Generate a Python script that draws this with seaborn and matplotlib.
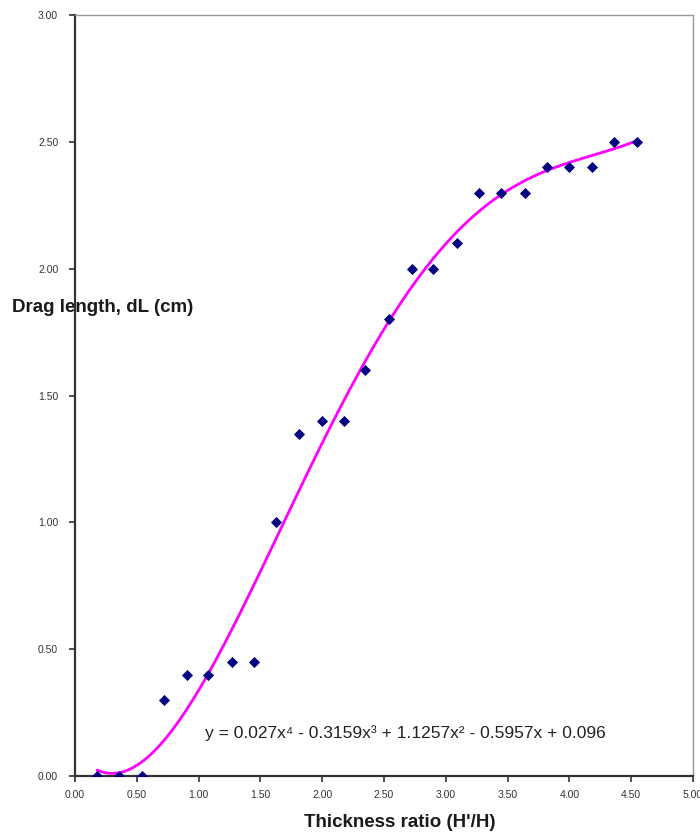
import numpy as np
import pandas as pd
import matplotlib
matplotlib.use('Agg')
import matplotlib.pyplot as plt
import seaborn as sns

# measured points
thickness_ratio = [0.18, 0.36, 0.54, 0.72, 0.91, 1.08, 1.27, 1.45, 1.63, 1.81,
                   2.00, 2.18, 2.35, 2.54, 2.73, 2.90, 3.09, 3.27, 3.45, 3.64,
                   3.82, 4.00, 4.18, 4.36, 4.55]
drag_length = [0.00, 0.00, 0.00, 0.30, 0.40, 0.40, 0.45, 0.45, 1.00, 1.35,
               1.40, 1.40, 1.60, 1.80, 2.00, 2.00, 2.10, 2.30, 2.30, 2.30,
               2.40, 2.40, 2.40, 2.50, 2.50]

# 4th order polynomial trendline (highest power first)
trend_coefs = [0.027, -0.3159, 1.1257, -0.5957, 0.096]
equation = "y = 0.027x\u2074 - 0.3159x\u00b3 + 1.1257x\u00b2 - 0.5957x + 0.096"

x_ticks = [0.0, 0.5, 1.0, 1.5, 2.0, 2.5, 3.0, 3.5, 4.0, 4.5, 5.0]
y_ticks = [0.0, 0.5, 1.0, 1.5, 2.0, 2.5, 3.0]

sns.set_style('white')
plt.rcParams['font.family'] = ['Liberation Sans', 'DejaVu Sans']

df = pd.DataFrame({'ratio': thickness_ratio, 'drag': drag_length})
xs = np.linspace(min(thickness_ratio), max(thickness_ratio), 300)
trend = pd.DataFrame({'ratio': xs, 'drag': np.polyval(trend_coefs, xs)})

fig = plt.figure(figsize=(7, 8.34), dpi=100)
ax = fig.add_axes([0.107, 0.0695, 0.883, 0.9125])

sns.lineplot(data=trend, x='ratio', y='drag', ax=ax, color='#FF00FF', linewidth=2)
sns.scatterplot(data=df, x='ratio', y='drag', ax=ax, marker='D', color='#000080',
                s=32, edgecolor='#000080', linewidth=0, zorder=3)

ax.set_xlim(0, 5)
ax.set_ylim(0, 3)
ax.set_xticks(x_ticks)
ax.set_yticks(y_ticks)
ax.set_xticklabels([f'{v:.2f}' for v in x_ticks])
ax.set_yticklabels([f'{v:.2f}' for v in y_ticks])
ax.tick_params(axis='both', direction='out', length=4, width=1.2, color='#333333',
               labelsize=7.5, labelcolor='#333333', left=True, bottom=True)
ax.tick_params(axis='x', pad=6)
ax.tick_params(axis='y', pad=8)

for side in ['left', 'bottom']:
    ax.spines[side].set_color('#333333')
    ax.spines[side].set_linewidth(1.6)
for side in ['top', 'right']:
    ax.spines[side].set_color('#999999')
    ax.spines[side].set_linewidth(1.0)

ax.set_xlabel("Thickness ratio (H'/H)", fontsize=13.5, fontweight='bold', color='#1a1a1a',
              va='center')
ax.xaxis.set_label_coords(0.526, -0.0615)
ax.set_ylabel("Drag length, dL (cm)", fontsize=13.5, fontweight='bold', color='#1a1a1a',
              rotation=0, ha='left', va='center')
ax.yaxis.set_label_coords(-0.102, 0.616)

ax.text(1.05, 0.17, equation, fontsize=12.5, color='#222222', ha='left', va='center')

fig.savefig('out.png', dpi=100)
